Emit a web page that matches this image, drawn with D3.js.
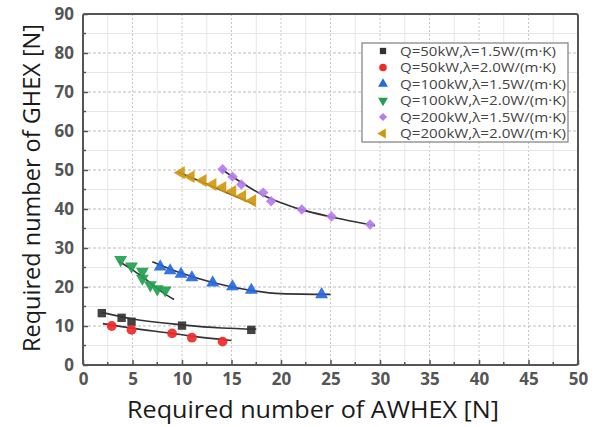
<!DOCTYPE html>
<html><head><meta charset="utf-8">
<script src="https://cdn.jsdelivr.net/npm/d3@7"></script>
<style>body{margin:0;background:#fff}svg{display:block}</style>
</head><body><svg id="c" width="601" height="427"></svg>
<script>
const xTicks=[0,5,10,15,20,25,30,35,40,45,50];
const yTicks=[0,10,20,30,40,50,60,70,80,90];
const seriesNames=["Q=50kW,λ=1.5W/(m·K)","Q=50kW,λ=2.0W/(m·K)","Q=100kW,λ=1.5W/(m·K)","Q=100kW,λ=2.0W/(m·K)","Q=200kW,λ=1.5W/(m·K)","Q=200kW,λ=2.0W/(m·K)"];
const s50_15=[[1.9,13.3],[3.9,12.1],[4.9,11.1],[10,10.1],[17,9]];
const s50_20=[[2.9,10],[4.9,9],[9,8.1],[11,7],[14.1,6]];
const s100_15=[[7.8,25.2],[8.8,24.2],[9.9,23.3],[11,22.4],[13.1,21.1],[15.1,20.1],[17,19.2],[24.1,18.1]];
const s100_20=[[3.8,27],[4.9,25.3],[6,24],[6,22.2],[6.8,20.5],[7.5,19.5],[8.3,19.2]];
const s200_15=[[14.1,50.2],[15.1,48.3],[16,46.3],[18.2,44.2],[19,42],[22.1,39.9],[25.1,38.1],[29,36]];
const s200_20=[[9.9,49.3],[10.9,48.3],[12.1,47.3],[13.1,46.3],[14.1,45.5],[15.1,44.5],[16.1,43.3],[17.1,42.1]];
const fit50_15=[[1.9,13.5],[5,11.8],[10,10.3],[14,9.5],[17.5,9.2]];
const fit50_20=[[2,10.6],[5,9.4],[9,8.1],[11,7.4],[15,6.3]];
const fit100_15=[[7,26.5],[10,23.5],[13,21.2],[17,19.1],[20,18.3],[25,18.1]];
const fit100_20=[[3.6,26.6],[5,24.4],[6,22.6],[7,20.7],[8,18.7],[9.2,16.8]];
const fit200_15=[[14,50.2],[16,46.8],[18,43.8],[20,41.6],[22,39.9],[25,38],[29.5,35.7]];
const fit200_20=[[9.5,49.6],[17.3,41.2]];

const colors=["#333333","#ee2a2a","#2568e0","#22a050","#b97cf0","#cf980f"];
const symbols=["square","circle","up","down","diamond","left"];
const data=[s50_15,s50_20,s100_15,s100_20,s200_15,s200_20];
const fits=[fit50_15,fit50_20,fit100_15,fit100_20,fit200_15,fit200_20];

const svg=d3.select("#c");
const L=83,R=578,T=14,B=365;
const x=d3.scaleLinear().domain([0,50]).range([L,R]);
const y=d3.scaleLinear().domain([0,90]).range([B,T]);

// grid
const g=svg.append("g");
d3.range(2.5,50,2.5).forEach(v=>{
  const major=v%5===0;
  g.append("line").attr("x1",x(v)).attr("x2",x(v)).attr("y1",T).attr("y2",B)
   .attr("stroke",major?"#c8c8c8":"#e6e6e6").attr("stroke-width",1).attr("stroke-dasharray",major?"2,2":null);
});
d3.range(5,90,5).forEach(v=>{
  const major=v%10===0;
  g.append("line").attr("x1",L).attr("x2",R).attr("y1",y(v)).attr("y2",y(v))
   .attr("stroke",major?"#bdbdbd":"#e6e6e6").attr("stroke-width",1).attr("stroke-dasharray",major?"3,2":null);
});

// axes
const xa=svg.append("g").attr("transform",`translate(0,${B})`)
  .call(d3.axisBottom(x).tickValues(xTicks).tickSize(-5).tickPadding(8).tickFormat(d3.format("d")));
const ya=svg.append("g").attr("transform",`translate(${L},0)`)
  .call(d3.axisLeft(y).tickValues(yTicks).tickSize(-5).tickPadding(9).tickFormat(d3.format("d")));
[xa,ya].forEach(a=>{a.select(".domain").remove();a.selectAll("line").attr("stroke","#555").attr("stroke-width",1.5);
  a.selectAll("text").attr("font-family","Open Sans, sans-serif").attr("font-size",17).attr("font-weight",700).attr("fill","#555");});
// minor ticks
d3.range(2.5,50,5).forEach(v=>svg.append("line").attr("x1",x(v)).attr("x2",x(v)).attr("y1",B).attr("y2",B-3).attr("stroke","#555").attr("stroke-width",1.5));
d3.range(5,90,10).forEach(v=>svg.append("line").attr("x1",L).attr("x2",L+3).attr("y1",y(v)).attr("y2",y(v)).attr("stroke","#555").attr("stroke-width",1.5));

// frame
svg.append("rect").attr("x",L).attr("y",T).attr("width",R-L).attr("height",B-T).attr("rx",2)
  .attr("fill","none").attr("stroke","#555").attr("stroke-width",2);

// fit lines
const line=d3.line().curve(d3.curveMonotoneX).x(d=>x(d[0])).y(d=>y(d[1]));
fits.forEach(f=>svg.append("path").attr("d",line(f)).attr("fill","none").attr("stroke","#333").attr("stroke-width",1.6));

function sym(i,size){
  const s=symbols[i];
  if(s==="square") return {p:d3.symbol(d3.symbolSquare,size)(),rot:0};
  if(s==="circle") return {p:d3.symbol(d3.symbolCircle,size)(),rot:0};
  if(s==="diamond") return {p:d3.symbol(d3.symbolSquare,size)(),rot:45};
  const p=d3.symbol(d3.symbolTriangle,size)();
  return {p,rot:s==="up"?0:(s==="down"?180:-90)};
}
data.forEach((ser,i)=>{
  const sz=[70,75,72,72,55,72][i];
  const sm=sym(i,sz);
  svg.append("g").selectAll("path").data(ser).join("path").attr("d",sm.p)
    .attr("transform",d=>`translate(${x(d[0])},${y(d[1])}) rotate(${sm.rot})`)
    .attr("fill",colors[i]).attr("opacity",0.92);
});

// legend
const lg=svg.append("g");
lg.append("rect").attr("x",362).attr("y",43).attr("width",206).attr("height",99).attr("fill","#fff").attr("stroke","#888").attr("stroke-width",1.3);
seriesNames.forEach((n,i)=>{
  const yy=51+i*16.5;
  const sm=sym(i,[40,45,42,42,34,42][i]);
  lg.append("path").attr("d",sm.p).attr("transform",`translate(383,${yy}) rotate(${sm.rot})`).attr("fill",colors[i]);
  const t=lg.append("text").attr("x",400).attr("y",yy).attr("dy","0.35em").text(n)
    .attr("font-family","Open Sans, sans-serif").attr("font-size",13).attr("fill","#444");
  t.attr("textLength",i<2?156:166).attr("lengthAdjust","spacingAndGlyphs");
});

// titles
svg.append("text").attr("x",127).attr("y",418).attr("text-anchor","start").text("Required number of AWHEX [N]")
  .attr("font-family","Open Sans, sans-serif").attr("font-size",23.5).attr("fill","#1a1a1a")
  .attr("textLength",372).attr("lengthAdjust","spacingAndGlyphs");
svg.append("text").attr("transform",`translate(40,188) rotate(-90)`).attr("text-anchor","middle").text("Required number of GHEX [N]")
  .attr("font-family","Open Sans, sans-serif").attr("font-size",23.5).attr("fill","#1a1a1a");
</script></body></html>
